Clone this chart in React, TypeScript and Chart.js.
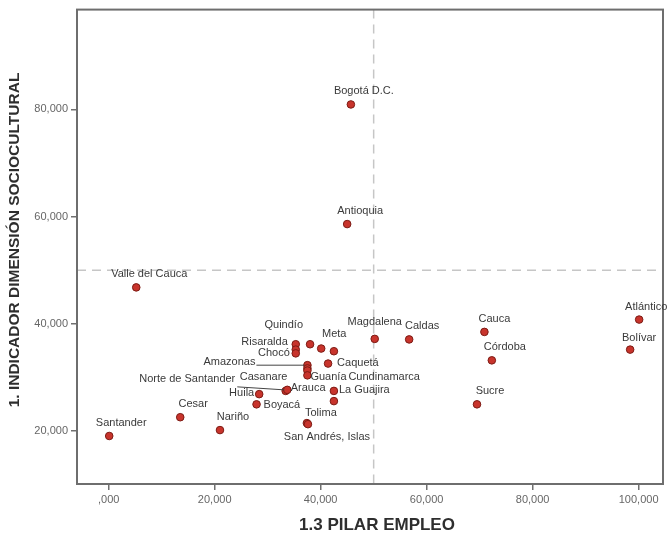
import { useEffect, useRef } from "react";
import { Chart, registerables } from "chart.js";

Chart.register(...registerables);

// Departments (empty name = point drawn without a label)
const departments = [
  "Bogotá D.C.", "Antioquia", "Valle del Cauca", "Atlántico", "Bolívar",
  "Cauca", "Córdoba", "Sucre", "Caldas", "Magdalena",
  "", "Meta", "", "Caquetá", "Quindío",
  "Risaralda", "Chocó", "Amazonas", "Cundinamarca", "Casanare",
  "Guanía", "Arauca", "Norte de Santander", "Huila", "Boyacá",
  "La Guajira", "", "Tolima", "San Andrés, Islas", "Santander",
  "Cesar", "Nariño",
];

// 1.3 Pilar empleo
const pilarEmpleo = [
  45.7, 45.0, 5.2, 100.1, 98.4,
  70.9, 72.3, 69.5, 56.7, 50.2,
  38.0, 40.1, 42.5, 41.4, 35.3,
  35.3, 35.3, 37.5, 37.5, 37.5,
  37.5, 33.4, 33.7, 28.4, 27.9,
  42.5, 42.5, 37.4, 37.6, 0.1,
  13.5, 21.0,
];

// 1. Indicador dimensión sociocultural
const indicadorSociocultural = [
  80.9, 58.6, 46.8, 40.8, 35.2,
  38.5, 33.2, 25.0, 37.1, 37.2,
  36.2, 35.4, 34.9, 32.6, 36.2,
  35.2, 34.5, 32.3, 31.7, 31.3,
  30.4, 27.5, 27.7, 26.9, 25.0,
  27.5, 25.6, 21.5, 21.3, 19.1,
  22.6, 20.2,
];

const xTickValues = [0, 20, 40, 60, 80, 100];
const yTickValues = [20, 40, 60, 80];
const xAxisRange = [-5.98, 104.6];
const yAxisRange = [10.15, 98.58];
const referenceX = 50;
const referenceY = 50;

const xTitle = "1.3 PILAR EMPLEO";
const yTitle = "1. INDICADOR DIMENSIÓN SOCIOCULTURAL";

// Label placement relative to each point: [dx, dy, align, leaderStartDx?, leaderStartDy?]
type Placement = [number, number, CanvasTextAlign, number?, number?];
const defaultPlacement: Placement = [13, -13, "center"];
const labelPlacement: Record<string, Placement> = {
  "Atlántico": [7, -13, "center"],
  "Bolívar": [9, -12, "center"],
  "Cauca": [10, -13, "center"],
  "Magdalena": [0, -17, "center"],
  "Meta": [13, -15, "center"],
  "Caquetá": [9, -1, "left"],
  "Quindío": [-12, -19, "center"],
  "Risaralda": [-8, -8, "right"],
  "Chocó": [-6, 0, "right"],
  "Amazonas": [-52, -3, "right", -51, 0],
  "Cundinamarca": [41, 9, "left"],
  "Casanare": [-20, 6, "right"],
  "Guanía": [3, 2, "left"],
  "Arauca": [5, -3, "left"],
  "Norte de Santander": [-52, -11, "right", -50, -3],
  "Huila": [-5, -1, "right"],
  "Boyacá": [7, 1, "left"],
  "La Guajira": [5, -1, "left"],
  "Tolima": [14, -10, "center"],
  "San Andrés, Islas": [19, 13, "center"],
  "Santander": [12, -13, "center"],
};

const FONT = "'Liberation Sans', Arial, sans-serif";

const formatTick = (v: number) => {
  const s = v.toFixed(3).replace(".", ",");
  return v === 0 ? s.replace(/^0/, "") : s.replace(/^(\d+),(\d{3})$/, "$1,$2");
};

const referenceLines = {
  id: "referenceLines",
  beforeDatasetsDraw(chart: any) {
    const { ctx, chartArea, scales } = chart;
    const x = scales.x.getPixelForValue(referenceX);
    const y = scales.y.getPixelForValue(referenceY);
    ctx.save();
    ctx.strokeStyle = "#c6c6c6";
    ctx.lineWidth = 1.5;
    ctx.setLineDash([9, 6]);
    ctx.beginPath();
    ctx.moveTo(x, chartArea.top);
    ctx.lineTo(x, chartArea.bottom);
    ctx.moveTo(chartArea.left, y);
    ctx.lineTo(chartArea.right, y);
    ctx.stroke();
    ctx.setLineDash([]);
    ctx.strokeStyle = "#6e6e6e";
    ctx.lineWidth = 2;
    ctx.strokeRect(
      chartArea.left,
      chartArea.top,
      chartArea.right - chartArea.left,
      chartArea.bottom - chartArea.top
    );
    ctx.restore();
  },
};

const pointLabels = {
  id: "pointLabels",
  afterDatasetsDraw(chart: any) {
    const { ctx } = chart;
    const meta = chart.getDatasetMeta(0);
    ctx.save();
    ctx.font = `11px ${FONT}`;
    ctx.textBaseline = "middle";
    meta.data.forEach((pt: any, i: number) => {
      const name = departments[i];
      if (!name) return;
      const [dx, dy, align, lx, ly] = labelPlacement[name] || defaultPlacement;
      if (lx !== undefined && ly !== undefined) {
        ctx.strokeStyle = "#444";
        ctx.lineWidth = 1;
        ctx.beginPath();
        ctx.moveTo(pt.x + lx, pt.y + ly);
        ctx.lineTo(pt.x - 3, pt.y);
        ctx.stroke();
      }
      ctx.fillStyle = "#3a3a3a";
      ctx.textAlign = align;
      ctx.fillText(name, pt.x + dx, pt.y + dy);
    });
    ctx.restore();
  },
};

const axisTitles = {
  id: "axisTitles",
  afterDraw(chart: any) {
    const { ctx } = chart;
    ctx.save();
    ctx.fillStyle = "#2e2e2e";
    ctx.textAlign = "center";
    ctx.textBaseline = "middle";
    ctx.font = `bold 17px ${FONT}`;
    ctx.fillText(xTitle, 377, 525);
    ctx.translate(15, 240);
    ctx.rotate(-Math.PI / 2);
    ctx.font = `bold 15.5px ${FONT}`;
    ctx.fillText(yTitle, 0, 0);
    ctx.restore();
  },
};

export default function App() {
  const canvasRef = useRef<HTMLCanvasElement | null>(null);

  useEffect(() => {
    document.body.style.margin = "0";
    const canvas = canvasRef.current;
    if (!canvas) return;
    const chart = new Chart(canvas, {
      type: "scatter",
      data: {
        labels: departments,
        datasets: [
          {
            data: pilarEmpleo.map((x, i) => ({ x, y: indicadorSociocultural[i] })),
            backgroundColor: "#c8342c",
            borderColor: "#7c1b14",
            borderWidth: 1,
            pointRadius: 3.8,
          },
        ],
      },
      options: {
        animation: false,
        responsive: false,
        devicePixelRatio: 1,
        layout: { padding: { top: 8, right: 6, left: 0, bottom: 0 } },
        plugins: {
          legend: { display: false },
          tooltip: { enabled: false },
        },
        scales: {
          x: {
            type: "linear",
            min: xAxisRange[0],
            max: xAxisRange[1],
            afterBuildTicks: (scale: any) => {
              scale.ticks = xTickValues.map((value) => ({ value }));
            },
            afterFit: (scale: any) => {
              scale.height = 54;
            },
            ticks: {
              callback: (v: any) => formatTick(Number(v)),
              font: { family: FONT, size: 11 },
              color: "#666",
              padding: 3,
              maxRotation: 0,
            },
            grid: {
              display: true,
              drawOnChartArea: false,
              drawTicks: true,
              tickLength: 6,
              color: "#707070",
              lineWidth: 1.5,
            },
            border: { display: false },
          },
          y: {
            type: "linear",
            min: yAxisRange[0],
            max: yAxisRange[1],
            afterBuildTicks: (scale: any) => {
              scale.ticks = yTickValues.map((value) => ({ value }));
            },
            afterFit: (scale: any) => {
              scale.width = 77;
            },
            ticks: {
              callback: (v: any) => formatTick(Number(v)),
              font: { family: FONT, size: 11 },
              color: "#666",
              padding: 3,
            },
            grid: {
              display: true,
              drawOnChartArea: false,
              drawTicks: true,
              tickLength: 6,
              color: "#707070",
              lineWidth: 1.5,
            },
            border: { display: false },
          },
        },
      },
      plugins: [referenceLines, pointLabels, axisTitles],
    });
    return () => chart.destroy();
  }, []);

  return (
    <canvas
      ref={canvasRef}
      width={669}
      height={538}
      style={{ display: "block", width: 669, height: 538 }}
    />
  );
}
